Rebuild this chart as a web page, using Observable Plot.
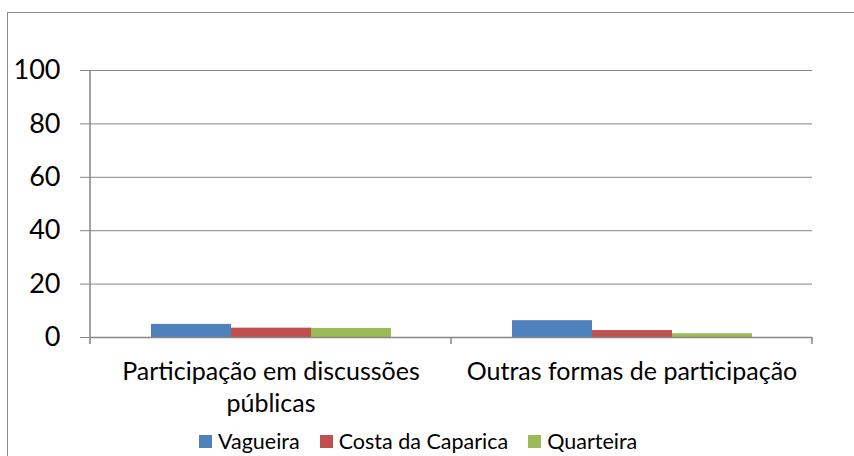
<!DOCTYPE html>
<html>
<head>
<meta charset="utf-8">
<script src="https://cdn.jsdelivr.net/npm/d3@7"></script>
<script src="https://cdn.jsdelivr.net/npm/@observablehq/plot@0.6"></script>
<style>
  html, body { margin: 0; padding: 0; background: #fff; overflow: hidden; }
  #box { position: absolute; left: 7px; top: 12px; width: 880px; height: 480px; border: 1px solid #8c8c8c; font-family: Lato, sans-serif; }
  #legend { height: 32px; line-height: 32px; padding-left: 191px; font-size: 21.5px; color: #000; display: flex; align-items: center; }
  .item { display: flex; align-items: center; margin-right: 20px; }
  .sw { width: 13px; height: 13px; margin-right: 6px; }
</style>
</head>
<body>
<div id="box"><div id="chart"></div><div id="legend"></div></div>
<script>
const categories = ["Participação em discussões públicas", "Outras formas de participação"];
const categoryLabels = ["Participação em discussões\npúblicas", "Outras formas de participação"];
const series = ["Vagueira", "Costa da Caparica", "Quarteira"];
const vagueira = [4.9, 6.3];
const costaDaCaparica = [3.5, 2.6];
const quarteira = [3.4, 1.4];
const colors = ["#4F81BD", "#C0504D", "#9BBB59"];
const yTicks = [0, 20, 40, 60, 80, 100];

const seriesValues = [vagueira, costaDaCaparica, quarteira];
const table = [];
categories.forEach((c, i) => series.forEach((s, j) => table.push({category: c, series: s, value: seriesValues[j][i]})));

const W = 846, H = 412, ML = 82, MR = 42, MT = 57, MB = 88;
const grid = "#868686";

const plot = Plot.plot({
  width: W, height: H,
  marginLeft: ML, marginRight: MR, marginTop: MT, marginBottom: MB,
  style: {fontFamily: "Lato, sans-serif", color: "#000", background: "#fff"},
  fx: {domain: categories, padding: 0, axis: null},
  x: {domain: series, paddingInner: 0, paddingOuter: 0.756, axis: null},
  y: {domain: [0, 100], ticks: yTicks, tickSize: 10, tickPadding: 20, label: null, fontSize: 27, line: false},
  color: {domain: series, range: colors},
  marks: [
    Plot.ruleY(yTicks.filter(d => d > 0), {stroke: grid, strokeWidth: 1}),
    Plot.barY(table, {fx: "category", x: "series", y: "value", fill: "series"}),
    Plot.ruleY([0], {stroke: grid, strokeWidth: 1.5}),
    Plot.text(categories, {fx: d => d, text: (d, i) => categoryLabels[i], frameAnchor: "bottom", lineAnchor: "top", dy: 19, fontSize: 25, lineHeight: 1.3, fill: "#000"})
  ]
});

d3.select(plot).selectAll("[aria-label='y-axis tick'] path, [aria-label='y-axis'] path, g[aria-label='y-axis tick']").attr("stroke", grid);
d3.select(plot).selectAll("[aria-label='y-axis tick label'] text, [aria-label='y-axis'] text").style("font-size", "27px");

const fx = plot.scale("fx"), y = plot.scale("y");
const y0 = y.apply(0), y100 = y.apply(100);
const svg = d3.select(plot);
const bounds = categories.map(c => fx.apply(c));
bounds.push(fx.apply(categories[categories.length - 1]) + fx.bandwidth);
const g = svg.append("g").attr("stroke", grid).attr("stroke-width", 1.5);
g.append("line").attr("x1", ML).attr("x2", ML).attr("y1", y100).attr("y2", y0);
bounds.forEach(bx => g.append("line").attr("x1", bx).attr("x2", bx).attr("y1", y0).attr("y2", y0 + 7));

document.getElementById("chart").appendChild(plot);

const legend = document.getElementById("legend");
series.forEach((s, i) => {
  const it = document.createElement("div"); it.className = "item";
  const sw = document.createElement("div"); sw.className = "sw"; sw.style.background = colors[i];
  const t = document.createElement("span"); t.textContent = s;
  it.appendChild(sw); it.appendChild(t); legend.appendChild(it);
});
</script>
</body>
</html>
